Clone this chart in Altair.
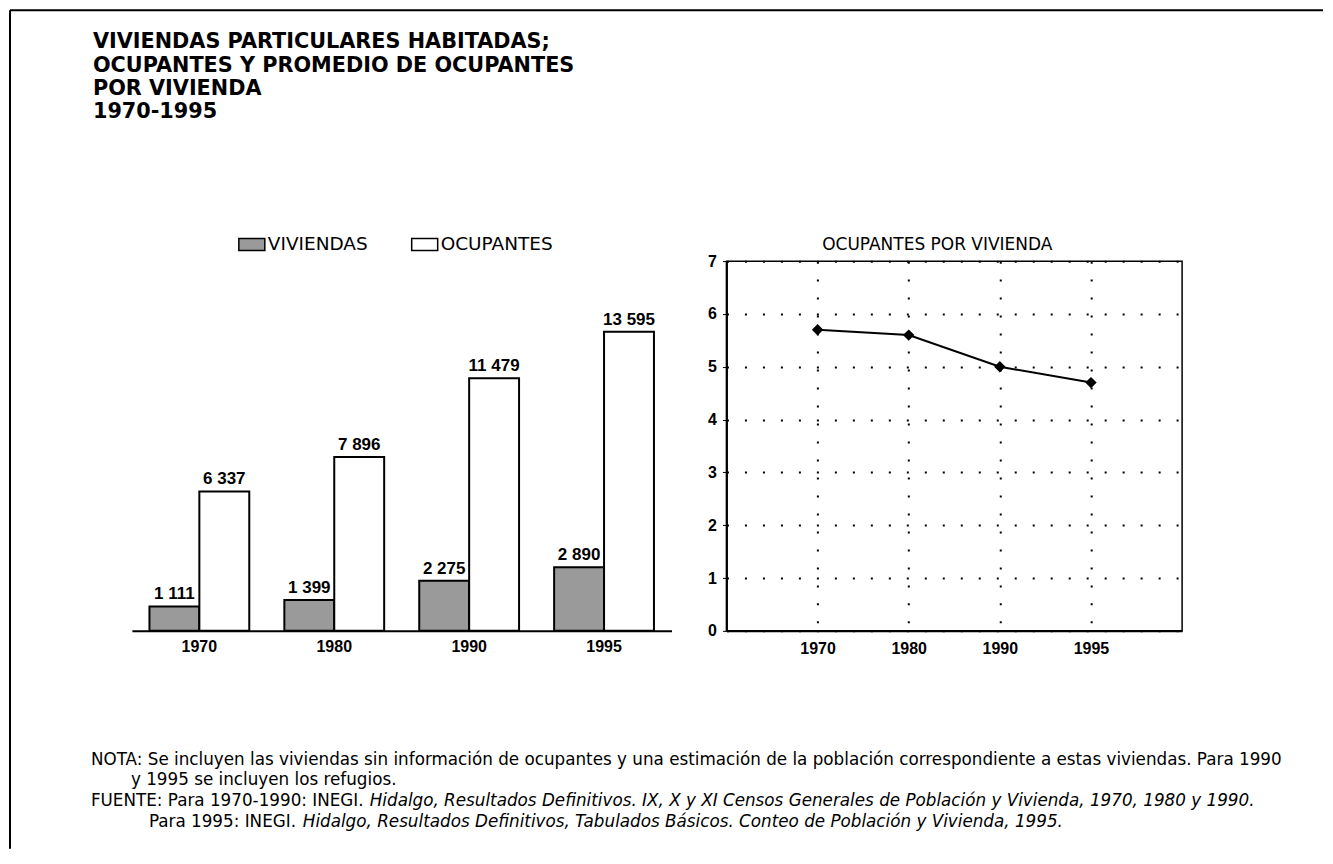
import altair as alt
import pandas as pd

FONT = "DejaVu Sans"
NUM_FONT = "Liberation Sans"

# ---- data -------------------------------------------------------------
years = ["1970", "1980", "1990", "1995"]
series = ["VIVIENDAS", "OCUPANTES"]
viviendas = [1111, 1399, 2275, 2890]
ocupantes = [6337, 7896, 11479, 13595]
promedio = [5.7, 5.6, 5.0, 4.7]
y_ticks = [0, 1, 2, 3, 4, 5, 6, 7]

title_lines = [
    "VIVIENDAS PARTICULARES HABITADAS;",
    "OCUPANTES Y PROMEDIO DE OCUPANTES",
    "POR VIVIENDA",
    "1970-1995",
]
line_title = "OCUPANTES POR VIVIENDA"
nota_1 = ("NOTA: Se incluyen las viviendas sin información de ocupantes y una estimación "
          "de la población correspondiente a estas viviendas. Para 1990")
nota_2 = "y 1995 se incluyen los refugios."
fuente_1a = "FUENTE: Para 1970-1990: INEGI."
fuente_1b = ("Hidalgo, Resultados Definitivos. IX, X y XI Censos Generales de Población y "
             "Vivienda, 1970, 1980 y 1990.")
fuente_2a = "Para 1995: INEGI."
fuente_2b = ("Hidalgo, Resultados Definitivos, Tabulados Básicos. Conteo de Población y "
             "Vivienda, 1995.")


def fmt(v):
    return f"{v:,}".replace(",", " ")


bars_df = pd.DataFrame({
    "year": years * 2,
    "serie": [series[0]] * len(years) + [series[1]] * len(years),
    "valor": viviendas + ocupantes,
})
bars_df["etiqueta"] = bars_df["valor"].map(fmt)

line_df = pd.DataFrame({"year": years, "promedio": promedio})

# ---- bar chart --------------------------------------------------------
x_bar = alt.X(
    "year:N", sort=years,
    scale=alt.Scale(paddingInner=0.26, paddingOuter=0.13),
    axis=alt.Axis(title=None, labelAngle=0, ticks=False, grid=False,
                  domainColor="black", domainWidth=2,
                  labelFont=NUM_FONT, labelFontWeight="bold", labelFontSize=16,
                  labelColor="black", labelPadding=8),
)
y_bar = alt.Y("valor:Q", scale=alt.Scale(domain=[0, 16800]), axis=None)
x_off = alt.XOffset("serie:N", sort=series,
                    scale=alt.Scale(paddingInner=0, paddingOuter=0))
color = alt.Color(
    "serie:N", sort=series,
    scale=alt.Scale(domain=series, range=["#9a9a9a", "#ffffff"]),
    legend=alt.Legend(
        title=None, orient="none", legendX=109, legendY=-28,
        direction="horizontal", padding=0,
        symbolType="M-1.3,-0.6H1.3V0.6H-1.3Z", symbolSize=400,
        symbolStrokeColor="black", symbolStrokeWidth=1.5,
        labelFont=FONT, labelFontSize=18.5, labelColor="black",
        labelOffset=5, columnPadding=40,
    ),
)

bars = alt.Chart(bars_df).mark_bar(stroke="black", strokeWidth=2).encode(
    x=x_bar, xOffset=x_off, y=y_bar, color=color
)
bar_labels = alt.Chart(bars_df).mark_text(
    font=NUM_FONT, fontWeight="bold", fontSize=17, baseline="alphabetic",
    dy=-7, color="black"
).encode(x=x_bar, xOffset=x_off, y=y_bar, text="etiqueta:N")

one = pd.DataFrame({"k": [0]})

title_txt = alt.Chart(pd.DataFrame({"t": ["\n".join(title_lines)]})).mark_text(
    lineBreak="\n", lineHeight=23.3, align="left", baseline="alphabetic",
    font=FONT, fontWeight="bold", fontSize=20.8, color="black"
).encode(x=alt.value(-39), y=alt.value(-213), text="t:N")


def note(text, x, y, italic=False):
    kw = dict(align="left", baseline="alphabetic", font=FONT, fontSize=16.8,
              color="black")
    if italic:
        kw["fontStyle"] = "italic"
    return alt.Chart(pd.DataFrame({"t": [text]})).mark_text(**kw).encode(
        x=alt.value(x), y=alt.value(y), text="t:N")


notes = [
    note(nota_1, -41, 504),
    note(nota_2, -1, 524),
    note(fuente_1a, -41, 545),
    note(fuente_1b, 238, 545, italic=True),
    note(fuente_2a, 17, 566),
    note(fuente_2b, 171, 566, italic=True),
]

border_left = alt.Chart(one).mark_rule(color="black", strokeWidth=2).encode(
    x=alt.value(-122), y=alt.value(-251), y2=alt.value(588))
border_top = alt.Chart(one).mark_rule(color="black", strokeWidth=2).encode(
    x=alt.value(-122), x2=alt.value(1192), y=alt.value(-251))

bar_chart = alt.layer(
    bars, bar_labels, title_txt, *notes, border_left, border_top
).properties(
    width=540, height=370,
    view=alt.ViewBackground(stroke="transparent"),
)

# ---- line chart -------------------------------------------------------
grid_kw = dict(grid=True, gridDash=[2, 16], gridColor="black", gridWidth=2)
x_line = alt.X(
    "year:N", sort=years, scale=alt.Scale(type="point", padding=1),
    axis=alt.Axis(title=None, labelAngle=0, ticks=False, labelPadding=10,
                  domainColor="black", domainWidth=2,
                  labelFont=NUM_FONT, labelFontWeight="bold", labelFontSize=16,
                  labelColor="black", **grid_kw),
)
y_line = alt.Y(
    "promedio:Q", scale=alt.Scale(domain=[0, 7]),
    axis=alt.Axis(title=None, values=y_ticks, format="d",
                  domainColor="black", domainWidth=2,
                  tickColor="black", tickSize=4, labelPadding=6,
                  labelFont=NUM_FONT, labelFontWeight="bold", labelFontSize=16,
                  labelColor="black", **grid_kw),
)
line_chart = alt.Chart(line_df).mark_line(
    color="black", strokeWidth=2,
    point=alt.OverlayMarkDef(shape="diamond", size=130, filled=True, color="black"),
).encode(x=x_line, y=y_line).properties(
    width=456, height=370,
    view=alt.ViewBackground(stroke="black", strokeWidth=1.5),
    title=alt.TitleParams(text=line_title, font=FONT, fontSize=17,
                          fontWeight="normal", color="black", anchor="middle",
                          frame="group", dx=-17, offset=-1),
)

chart = alt.hconcat(bar_chart, line_chart, spacing=55, bounds="flush").properties(
    padding=0
).configure(font=FONT)

chart.save("out.html", embed_options={"renderer": "svg", "actions": False})
